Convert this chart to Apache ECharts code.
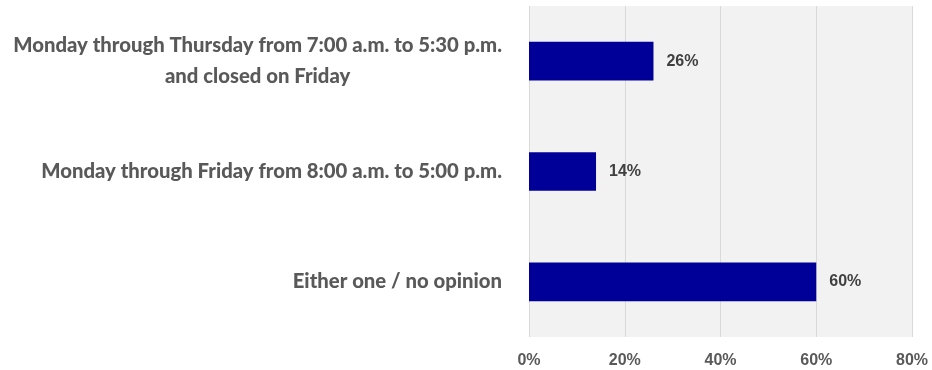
<!DOCTYPE html>
<html>
<head>
<meta charset="utf-8">
<script src="https://cdn.jsdelivr.net/npm/echarts@6/dist/echarts.min.js"></script>
<style>
html,body{margin:0;padding:0;background:#fff;}
#chart{width:932px;height:370px;}
</style>
</head>
<body>
<div id="chart"></div>
<script>
// Survey answers, listed top to bottom
const categories = [
  'Monday through Thursday from 7:00 a.m. to 5:30 p.m.\nand closed on Friday',
  'Monday through Friday from 8:00 a.m. to 5:00 p.m.',
  'Either one / no opinion'
];
const shares = [26, 14, 60];
const xTicks = [0, 20, 40, 60, 80];

const chart = echarts.init(document.getElementById('chart'));
chart.setOption({
  animation: false,
  grid: { left: 529, right: 20, top: 6, bottom: 33, containLabel: false,
          show: true, backgroundColor: '#f2f2f2', borderWidth: 0 },
  xAxis: {
    type: 'value', min: xTicks[0], max: xTicks[xTicks.length - 1], interval: 20,
    axisLine: { show: false }, axisTick: { show: false },
    splitLine: { show: true, lineStyle: { color: '#d9d9d9', width: 1 } },
    axisLabel: { formatter: v => v + '%', margin: 16, color: '#595959',
                 fontFamily: 'Liberation Sans, Arial', fontWeight: 'bold', fontSize: 16 }
  },
  yAxis: {
    type: 'category', inverse: true, data: categories,
    axisLine: { show: false }, axisTick: { show: false },
    axisLabel: {
      margin: 27,
      formatter: v => v.split('\n').map(s => '{c|' + s + '}').join('\n'),
      rich: { c: { align: 'center', color: '#595959', fontFamily: 'Lato', fontWeight: 900,
                   fontSize: 20.3, lineHeight: 31 } }
    }
  },
  series: [{
    type: 'bar', data: shares, barWidth: '35%',
    itemStyle: { color: '#000099' },
    label: { show: true, position: 'right', distance: 13, formatter: p => p.value + '%',
             color: '#404040', fontFamily: 'Liberation Sans, Arial', fontWeight: 'bold', fontSize: 16 }
  }]
});
</script>
</body>
</html>
